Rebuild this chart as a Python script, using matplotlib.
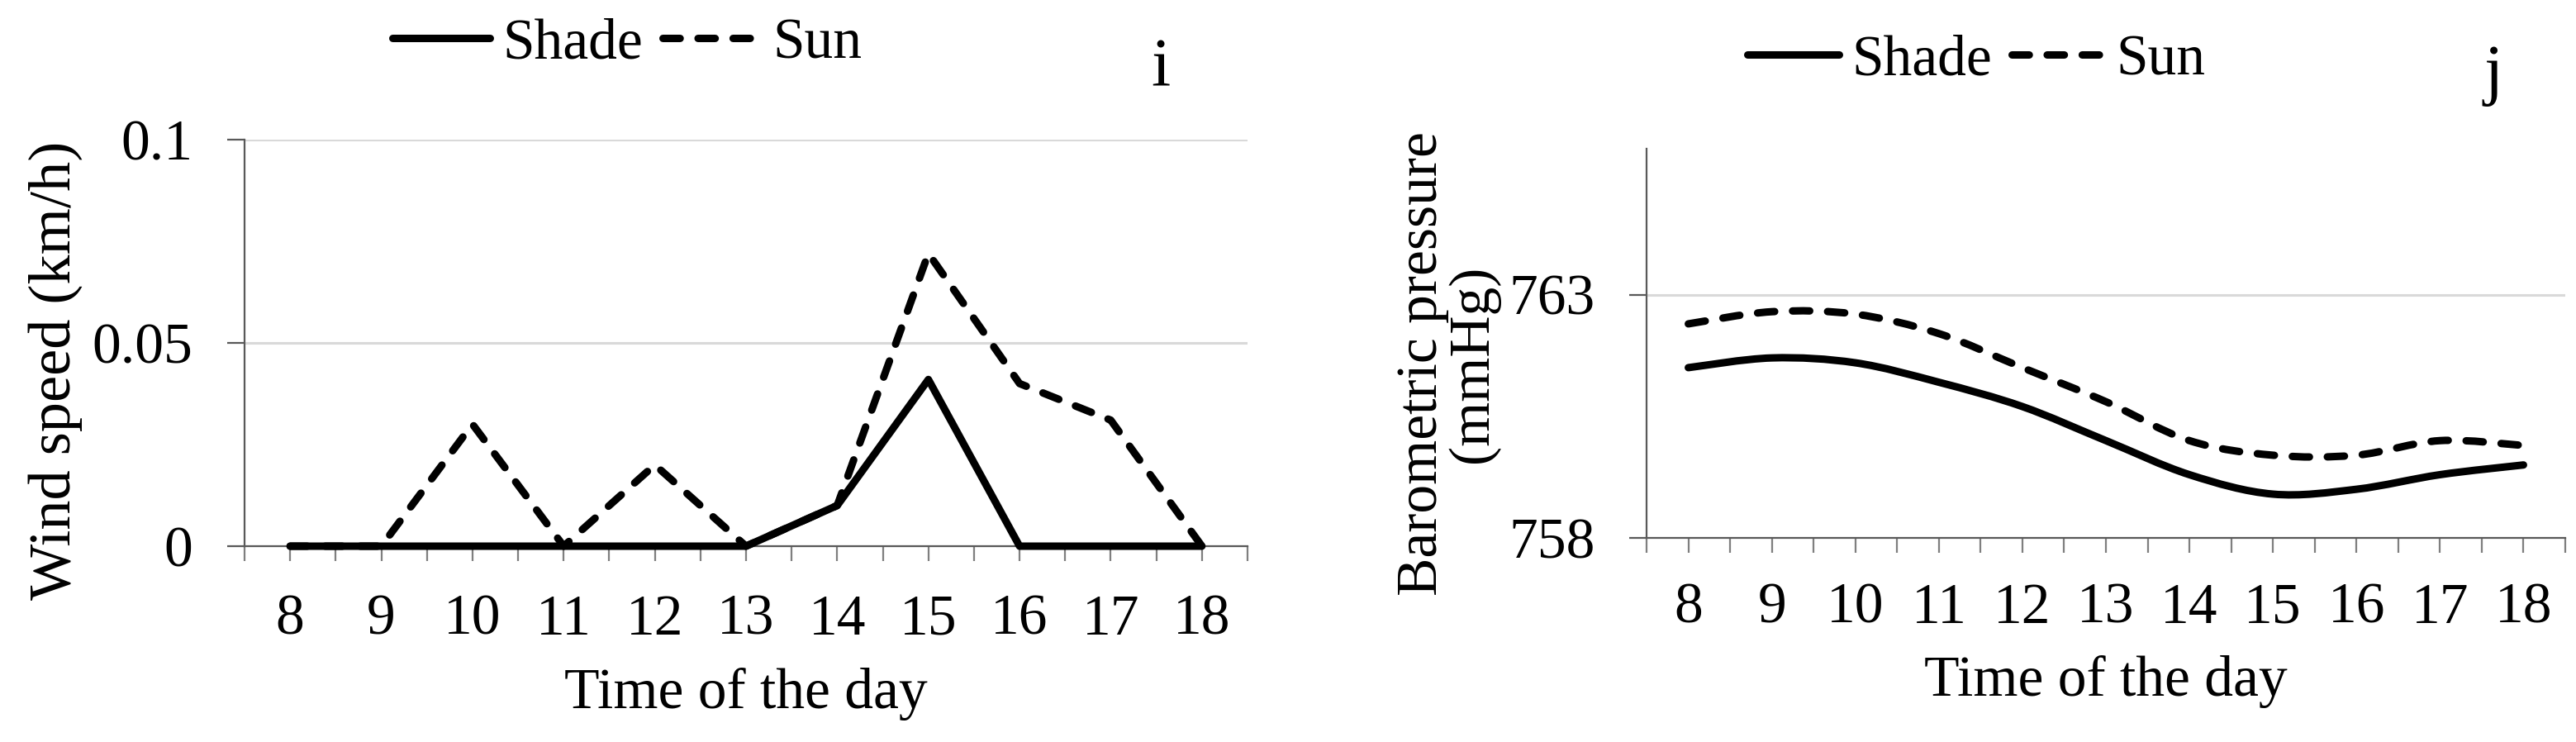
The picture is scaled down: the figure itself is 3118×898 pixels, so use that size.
import numpy as np
import matplotlib
matplotlib.use("Agg")
import matplotlib.pyplot as plt
from matplotlib.path import Path
from matplotlib.patches import PathPatch
from matplotlib.lines import Line2D

plt.rcParams['font.family'] = ['Liberation Serif', 'DejaVu Serif']

# data
hours = [8, 9, 10, 11, 12, 13, 14, 15, 16, 17, 18]
wind_shade = [0, 0, 0, 0, 0, 0, 0.01, 0.041, 0, 0, 0]
wind_sun = [0, 0, 0.03, 0, 0.02, 0, 0.01, 0.072, 0.04, 0.031, 0]
pres_shade = [761.5, 761.7, 761.6, 761.2, 760.7, 760.0, 759.3, 758.9, 759.0, 759.3, 759.5]
pres_sun = [762.4, 762.65, 762.6, 762.2, 761.5, 760.8, 760.0, 759.7, 759.7, 760.0, 759.9]
series_names = ['Shade', 'Sun']
wind_ticks = [0, 0.05, 0.1]
wind_ticklabels = ['0', '0.05', '0.1']
pres_ticks = [758, 763]
pres_ticklabels = ['758', '763']

W, H = 3118, 898
FS = 50
LW = 6.5
DASH = (2.3, 2.4)
AXC = '#595959'
TICKC = '#7f7f7f'

fig = plt.figure(figsize=(W / 100, H / 100), dpi=100)


def box(l, t, r, b):
    return [l / W, 1 - b / H, (r - l) / W, (b - t) / H]


def style(ax, ylim, yticks, ylabels, xpad):
    ax.set_xlim(hours[0] - 0.5, hours[-1] + 0.5)
    ax.set_ylim(*ylim)
    ax.set_xticks(hours)
    ax.set_xticklabels([str(h) for h in hours])
    ax.set_xticks([h - 0.5 for h in hours] + [hours[-1] + 0.5], minor=True)
    ax.set_yticks(yticks)
    ax.set_yticklabels(ylabels)
    for s in ['top', 'right']:
        ax.spines[s].set_visible(False)
    for s in ['left', 'bottom']:
        ax.spines[s].set_color(AXC)
        ax.spines[s].set_linewidth(1.6)
    ax.tick_params(axis='x', which='both', direction='out', length=13, width=1.6,
                   color=TICKC, pad=xpad, labelsize=FS)
    ax.tick_params(axis='y', which='major', direction='out', length=15, width=1.6,
                   color=AXC, pad=30, labelsize=FS)
    ax.yaxis.grid(True, color='#d9d9d9', lw=2.2)
    ax.set_axisbelow(True)


def smooth_path(x, y):
    pts = np.column_stack([x, y]).astype(float)
    n = len(pts)
    verts = [pts[0]]
    codes = [Path.MOVETO]
    for i in range(n - 1):
        p0 = pts[max(i - 1, 0)]
        p1 = pts[i]
        p2 = pts[i + 1]
        p3 = pts[min(i + 2, n - 1)]
        verts += [p1 + (p2 - p0) / 6, p2 - (p3 - p1) / 6, p2]
        codes += [Path.CURVE4] * 3
    return Path(verts, codes)


handles = [Line2D([], [], color='black', lw=LW, solid_capstyle='round'),
           Line2D([], [], color='black', lw=LW, dashes=DASH, dash_capstyle='round')]

# --- panel i: wind speed
ax1 = fig.add_axes(box(296, 169, 1510, 661))
style(ax1, (0, 0.1), wind_ticks, wind_ticklabels, 29)
ax1.plot(hours, wind_shade, color='black', lw=LW, solid_capstyle='round',
         solid_joinstyle='round', clip_on=False, zorder=3)
ax1.plot(hours, wind_sun, color='black', lw=LW, dashes=DASH, dash_capstyle='round',
         solid_joinstyle='round', clip_on=False, zorder=3)
ax1.text(-0.1886, 0.433, 'Wind speed (km/h)', rotation=90, ha='center', va='center',
         fontsize=52, transform=ax1.transAxes)
ax1.text(0.5, -0.398, 'Time of the day', ha='center', va='baseline', fontsize=FS,
         transform=ax1.transAxes)
fig.legend(handles, series_names, loc='center left', bbox_to_anchor=(475 / W, 1 - 54 / H),
           ncol=2, frameon=False, fontsize=FS, handlelength=1.7, handletextpad=0.22,
           columnspacing=0.35, borderpad=0, borderaxespad=0)
fig.text(1405 / W, 1 - 103 / H, 'i', fontsize=60, ha='center', va='baseline')

# --- panel j: barometric pressure
ax2 = fig.add_axes(box(1993, 180, 3105, 651))
style(ax2, (758, 766), pres_ticks, pres_ticklabels, 26)
ax2.add_patch(PathPatch(smooth_path(hours, pres_shade), fill=False, ec='black', lw=LW,
                        capstyle='round', joinstyle='round', zorder=3))
ax2.add_patch(PathPatch(smooth_path(hours, pres_sun), fill=False, ec='black', lw=LW,
                        linestyle=(0, DASH), capstyle='round', joinstyle='round', zorder=3))
ax2.text(-0.2158, 0.448, 'Barometric pressure\n(mmHg)', rotation=90, ha='center',
         va='center', multialignment='center', linespacing=0.95, fontsize=FS,
         transform=ax2.transAxes)
ax2.text(0.5, -0.4055, 'Time of the day', ha='center', va='baseline', fontsize=FS,
         transform=ax2.transAxes)
fig.legend(handles, series_names, loc='center left', bbox_to_anchor=(2115 / W, 1 - 74 / H),
           ncol=2, frameon=False, fontsize=FS, handlelength=1.6, handletextpad=0.22,
           columnspacing=0.35, borderpad=0, borderaxespad=0)
fig.text(3018 / W, 1 - 111 / H, 'j', fontsize=60, ha='center', va='baseline')

fig.savefig('out.png', dpi=100)
